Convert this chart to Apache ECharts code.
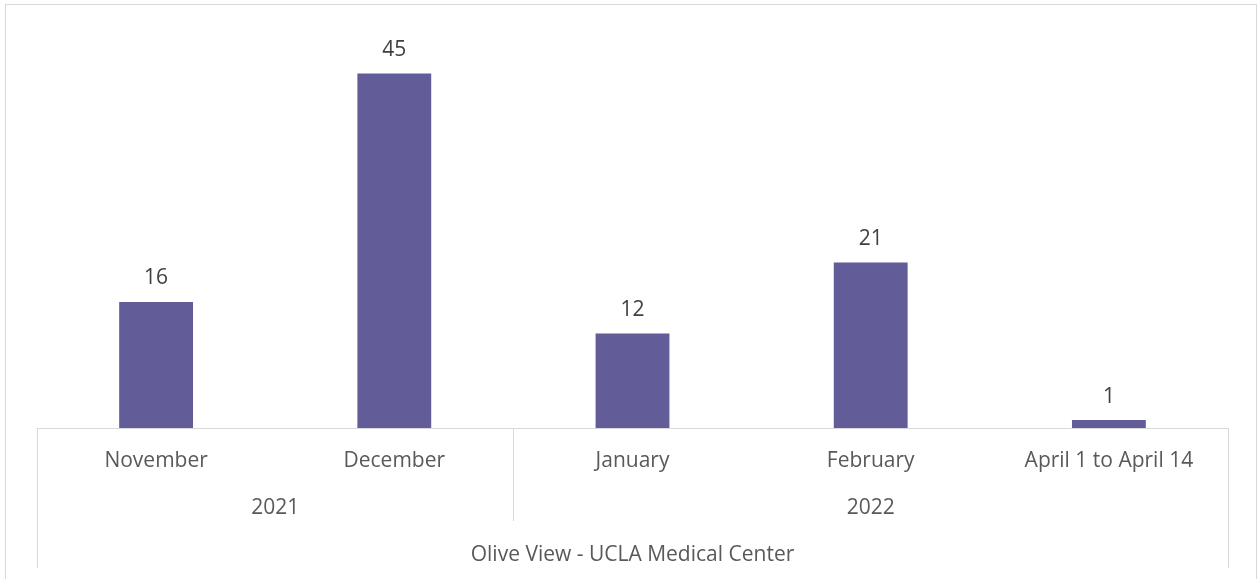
<!DOCTYPE html>
<html>
<head>
<meta charset="utf-8">
<script src="https://cdn.jsdelivr.net/npm/echarts@6/dist/echarts.min.js"></script>
<style>
  html, body { margin: 0; padding: 0; overflow: hidden; background: #fff; }
  #chart { width: 1257px; height: 579px; }
  #frame {
    position: absolute; left: 5px; top: 4px; width: 1250px; height: 700px;
    border: 1px solid #d9d9d9; pointer-events: none;
  }
</style>
</head>
<body>
<div id="chart"></div>
<div id="frame"></div>
<script>
var months = ['November', 'December', 'January', 'February', 'April 1 to April 14']
var counts = [16, 45, 12, 21, 1]
var years = ['2021', '2022']
var yearSpans = [2, 3] // how many month columns each year covers
var facility = 'Olive View - UCLA Medical Center'

// year group borders and centres in category units
var yearEdges = [0]
var yearCenters = []
yearSpans.forEach(function (n, i) {
  yearCenters.push(yearEdges[i] + n / 2)
  yearEdges.push(yearEdges[i] + n)
})
var total = months.length

var font = '"Open Sans", "Noto Sans", sans-serif'
var lineColor = '#d9d9d9'
var fs = 21

var chart = echarts.init(document.getElementById('chart'))
var option = {
  animation: false,
  grid: { left: 37, right: 29, top: 34, bottom: 151 },
  xAxis: [
    {
      type: 'category',
      data: months,
      position: 'bottom',
      axisLine: { lineStyle: { color: lineColor, width: 1 } },
      axisTick: { show: false },
      axisLabel: { color: '#595959', fontFamily: font, fontSize: fs, margin: 23 }
    },
    {
      type: 'value',
      min: 0,
      max: total,
      position: 'bottom',
      axisLine: { show: false },
      splitLine: { show: false },
      axisTick: {
        show: true,
        customValues: yearEdges.slice(1, -1),
        length: 93,
        lineStyle: { color: lineColor }
      },
      axisLabel: {
        customValues: yearCenters,
        formatter: function (v) {
          var i = yearCenters.indexOf(v)
          return i >= 0 ? years[i] : ''
        },
        color: '#595959', fontFamily: font, fontSize: fs, margin: 70
      }
    },
    {
      type: 'value',
      min: 0,
      max: total,
      position: 'bottom',
      axisLine: { show: false },
      splitLine: { show: false },
      axisTick: {
        show: true,
        customValues: [0, total],
        length: 140,
        lineStyle: { color: lineColor }
      },
      axisLabel: {
        customValues: [total / 2],
        formatter: function () { return facility },
        color: '#595959', fontFamily: font, fontSize: fs, margin: 117
      }
    }
  ],
  yAxis: {
    type: 'value',
    min: 0,
    max: 50,
    show: false
  },
  series: [
    {
      type: 'bar',
      data: counts,
      barWidth: '31%',
      itemStyle: { color: '#625c99' },
      label: {
        show: true,
        position: 'top',
        distance: 13,
        color: '#404040',
        fontFamily: font,
        fontSize: fs
      }
    }
  ]
}
chart.setOption(option)
</script>
</body>
</html>
